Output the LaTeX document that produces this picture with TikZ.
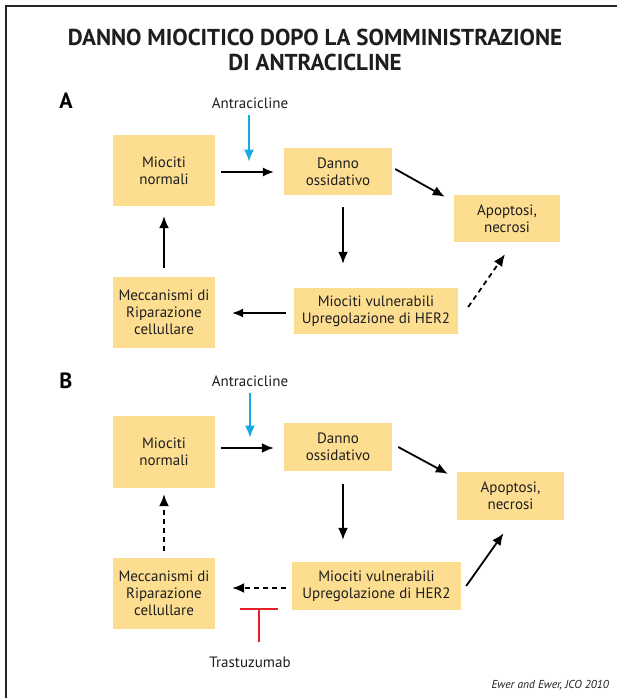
\documentclass[tikz,border=0pt]{standalone}
\usepackage{fontspec}
\setmainfont{PT Sans}
\usetikzlibrary{arrows.meta,calc}
\definecolor{boxfill}{RGB}{253,222,145}
\definecolor{cyanarr}{RGB}{20,170,230}
\definecolor{redbar}{RGB}{232,30,40}
\definecolor{txt}{RGB}{30,30,30}
\tikzset{
  box/.style={fill=boxfill, draw=none, align=center, inner sep=0pt, font=\fontsize{15}{17}\selectfont, text=txt},
  arr/.style={line width=1.8pt, -{Latex[length=12pt,width=10pt]}},
  thinarr/.style={line width=1.2pt, -{Latex[length=11pt,width=9pt]}},
  dasharr/.style={arr, dash pattern=on 5pt off 4pt},
  bluearr/.style={line width=1.8pt, cyanarr, -{Latex[length=12pt,width=10pt]}},
  lbl/.style={font=\fontsize{15}{17}\selectfont, text=txt, inner sep=0pt},
  panel/.style={font=\bfseries\fontsize{22}{24}\selectfont, inner sep=0pt},
}
\begin{document}
\begin{tikzpicture}[x=1pt,y=-1pt]
\useasboundingbox (0,0) rectangle (617,698);
\fill[white] (0,0) rectangle (617,698);
\draw[line width=2pt, black!85] (6,698) -- (6,6) -- (617,6);
% title
\node[font=\bfseries\fontsize{23}{25}\selectfont, align=center, inner sep=0pt, text=txt] (title) at (315,49.5) {DANNO MIOCITICO DOPO LA SOMMINISTRAZIONE\\DI ANTRACICLINE};
% panel A
\node[panel] (pA) at (66,101) {A};
\node[lbl] (antA) at (250,103) {Antracicline};
\node[box, minimum width=102pt, minimum height=71pt] (nA) at (164,170.5) {Miociti\\normali};
\node[box, minimum width=108pt, minimum height=47pt] (dA) at (338,171.5) {Danno\\ossidativo};
\node[box, minimum width=106pt, minimum height=47pt] (aA) at (507,218.5) {Apoptosi,\\necrosi};
\node[box, minimum width=164pt, minimum height=46pt] (vA) at (376,311) {Miociti vulnerabili\\Upregolazione di HER2};
\node[box, minimum width=102pt, minimum height=71pt] (mA) at (164,312.5) {Meccanismi di\\Riparazione\\cellullare};
\draw[bluearr] ($(antA.south)+(-1,6)$) -- ($(antA.south)+(-1,53)$);
\draw[thinarr] ($(nA.east)+(6,1.5)$) -- ($(nA.east -| dA.west)+(-10,1.5)$);
\draw[arr] ($(dA.east)+(3,-2.5)$) -- ($(aA.north west)+(-9,2)$);
\draw[arr] ($(dA.south)+(5,12)$) -- ($(dA.south |- vA.north)+(5,-24)$);
\draw[thinarr] ($(vA.west)+(-8,2)$) -- ($(vA.west -| mA.east)+(17,2)$);
\draw[arr] ($(mA.north)+(0,-9)$) -- ($(nA.south)+(0,10)$);
\draw[dasharr] ($(vA.east)+(10,-4)$) -- ($(aA.south)+(-2,12)$);
% panel B
\node[panel] (pB) at (66,381) {B};
\node[lbl] (antB) at (250,381) {Antracicline};
\node[box, minimum width=102pt, minimum height=72pt] (nB) at (164,452) {Miociti\\normali};
\node[box, minimum width=108pt, minimum height=48pt] (dB) at (338,447) {Danno\\ossidativo};
\node[box, minimum width=107pt, minimum height=48pt] (aB) at (510.5,496) {Apoptosi,\\necrosi};
\node[box, minimum width=169pt, minimum height=48pt] (vB) at (376.5,586) {Miociti vulnerabili\\Upregolazione di HER2};
\node[box, minimum width=102pt, minimum height=71pt] (mB) at (164,593.5) {Meccanismi di\\Riparazione\\cellullare};
\node[lbl] (tr) at (250,662) {Trastuzumab};
\draw[bluearr] ($(antB.south)+(0,6)$) -- ($(antB.south)+(0,51)$);
\draw[arr] ($(nB.east)+(6,-4)$) -- ($(nB.east -| dB.west)+(-10,-4)$);
\draw[arr] ($(dB.east)+(6,0)$) -- ($(aB.north west)+(-9,2)$);
\draw[arr] ($(dB.south)+(5,13)$) -- ($(dB.south |- vB.north)+(5,-22)$);
\draw[dasharr] ($(vB.west)+(-6,2)$) -- ($(vB.west -| mB.east)+(17,2)$);
\draw[dasharr] ($(mB.north)+(0,-7)$) -- ($(nB.south)+(0,6)$);
\draw[arr] ($(vB.east)+(5,0)$) -- ($(aB.south)+(-7,13)$);
\coordinate (tee) at ($(tr.north)+(9,-47)$);
\draw[redbar, line width=2pt] ($(tee)+(-19,0)$) -- ($(tee)+(19,0)$);
\draw[redbar, line width=2pt] (tee) -- ($(tr.north)+(9,-14)$);
% citation
\node[font=\itshape\fontsize{11.5}{13}\selectfont, anchor=east, inner sep=0pt, text=txt] (cite) at (609,685) {Ewer and Ewer, JCO 2010};
\end{tikzpicture}
\end{document}
